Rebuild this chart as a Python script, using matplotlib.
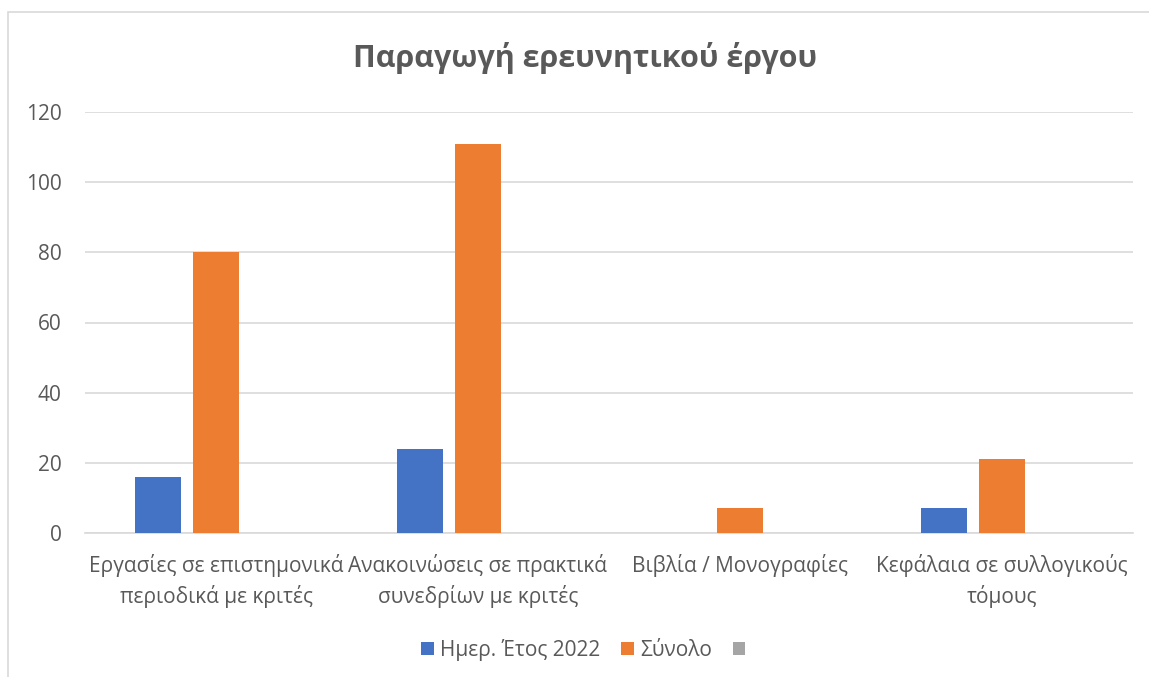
import matplotlib
matplotlib.use("Agg")
import matplotlib.pyplot as plt
import numpy as np
from matplotlib.patches import Rectangle

plt.rcParams['font.family'] = ['Open Sans', 'DejaVu Sans']

# dedomena
katigories = [
    "Εργασίες σε επιστημονικά\nπεριοδικά με κριτές",
    "Ανακοινώσεις σε πρακτικά\nσυνεδρίων με κριτές",
    "Βιβλία / Μονογραφίες",
    "Κεφάλαια σε συλλογικούς\nτόμους",
]
etos_2022 = [16, 24, 0, 7]
synolo = [80, 111, 7, 21]
keno = [0, 0, 0, 0]

seires = ["Ημερ. Έτος 2022", "Σύνολο", " "]
xromata = ["#4472C4", "#ED7D31", "#A5A5A5"]

keimeno = "#595959"

fig = plt.figure(figsize=(11.49, 6.77), dpi=100)
ax = fig.add_axes([85 / 1149, 1 - 533 / 677, (1133 - 85) / 1149, (533 - 112) / 677])

x = np.arange(len(katigories))
platos = 0.176
vima = 0.221
for i, (timi, onoma, xr) in enumerate(zip([etos_2022, synolo, keno], seires, xromata)):
    ax.bar(x + (i - 1) * vima, timi, width=platos, color=xr, label=onoma, zorder=3)

ax.set_xlim(-0.5, len(katigories) - 0.5)
ax.set_ylim(0, 120)
ax.set_yticks(np.arange(0, 121, 20))
ax.grid(axis="y", color="#D9D9D9", linewidth=1.2, zorder=0)
ax.set_axisbelow(True)
for s in ["top", "right", "left"]:
    ax.spines[s].set_visible(False)
ax.spines["bottom"].set_color("#D9D9D9")
ax.spines["bottom"].set_linewidth(1.2)

ax.set_xticks(x)
ax.set_xticklabels(katigories, fontsize=15, color=keimeno, linespacing=1.45)
ax.tick_params(axis="both", length=0, colors=keimeno, labelsize=15)
ax.tick_params(axis="x", pad=15)
ax.tick_params(axis="y", pad=17)
for t in ax.get_yticklabels():
    t.set_horizontalalignment("right")

fig.text(585 / 1149, 1 - 58 / 677, "Παραγωγή ερευνητικού έργου", ha="center", va="center",
         fontsize=22, fontweight="bold", color=keimeno)

leg = fig.legend(loc="center", bbox_to_anchor=(589 / 1149, 1 - 650 / 677), ncol=3,
                 frameon=False, fontsize=15, handlelength=0.6, handleheight=0.6,
                 handletextpad=0.3, columnspacing=1.0)
for t in leg.get_texts():
    t.set_color(keimeno)

# perigramma
fig.add_artist(Rectangle((8 / 1149, -0.1), 1.2, 1 - 12 / 677 + 0.1, transform=fig.transFigure,
                         fill=False, edgecolor="#D9D9D9", linewidth=1.2))

fig.savefig("out.png", dpi=100)
